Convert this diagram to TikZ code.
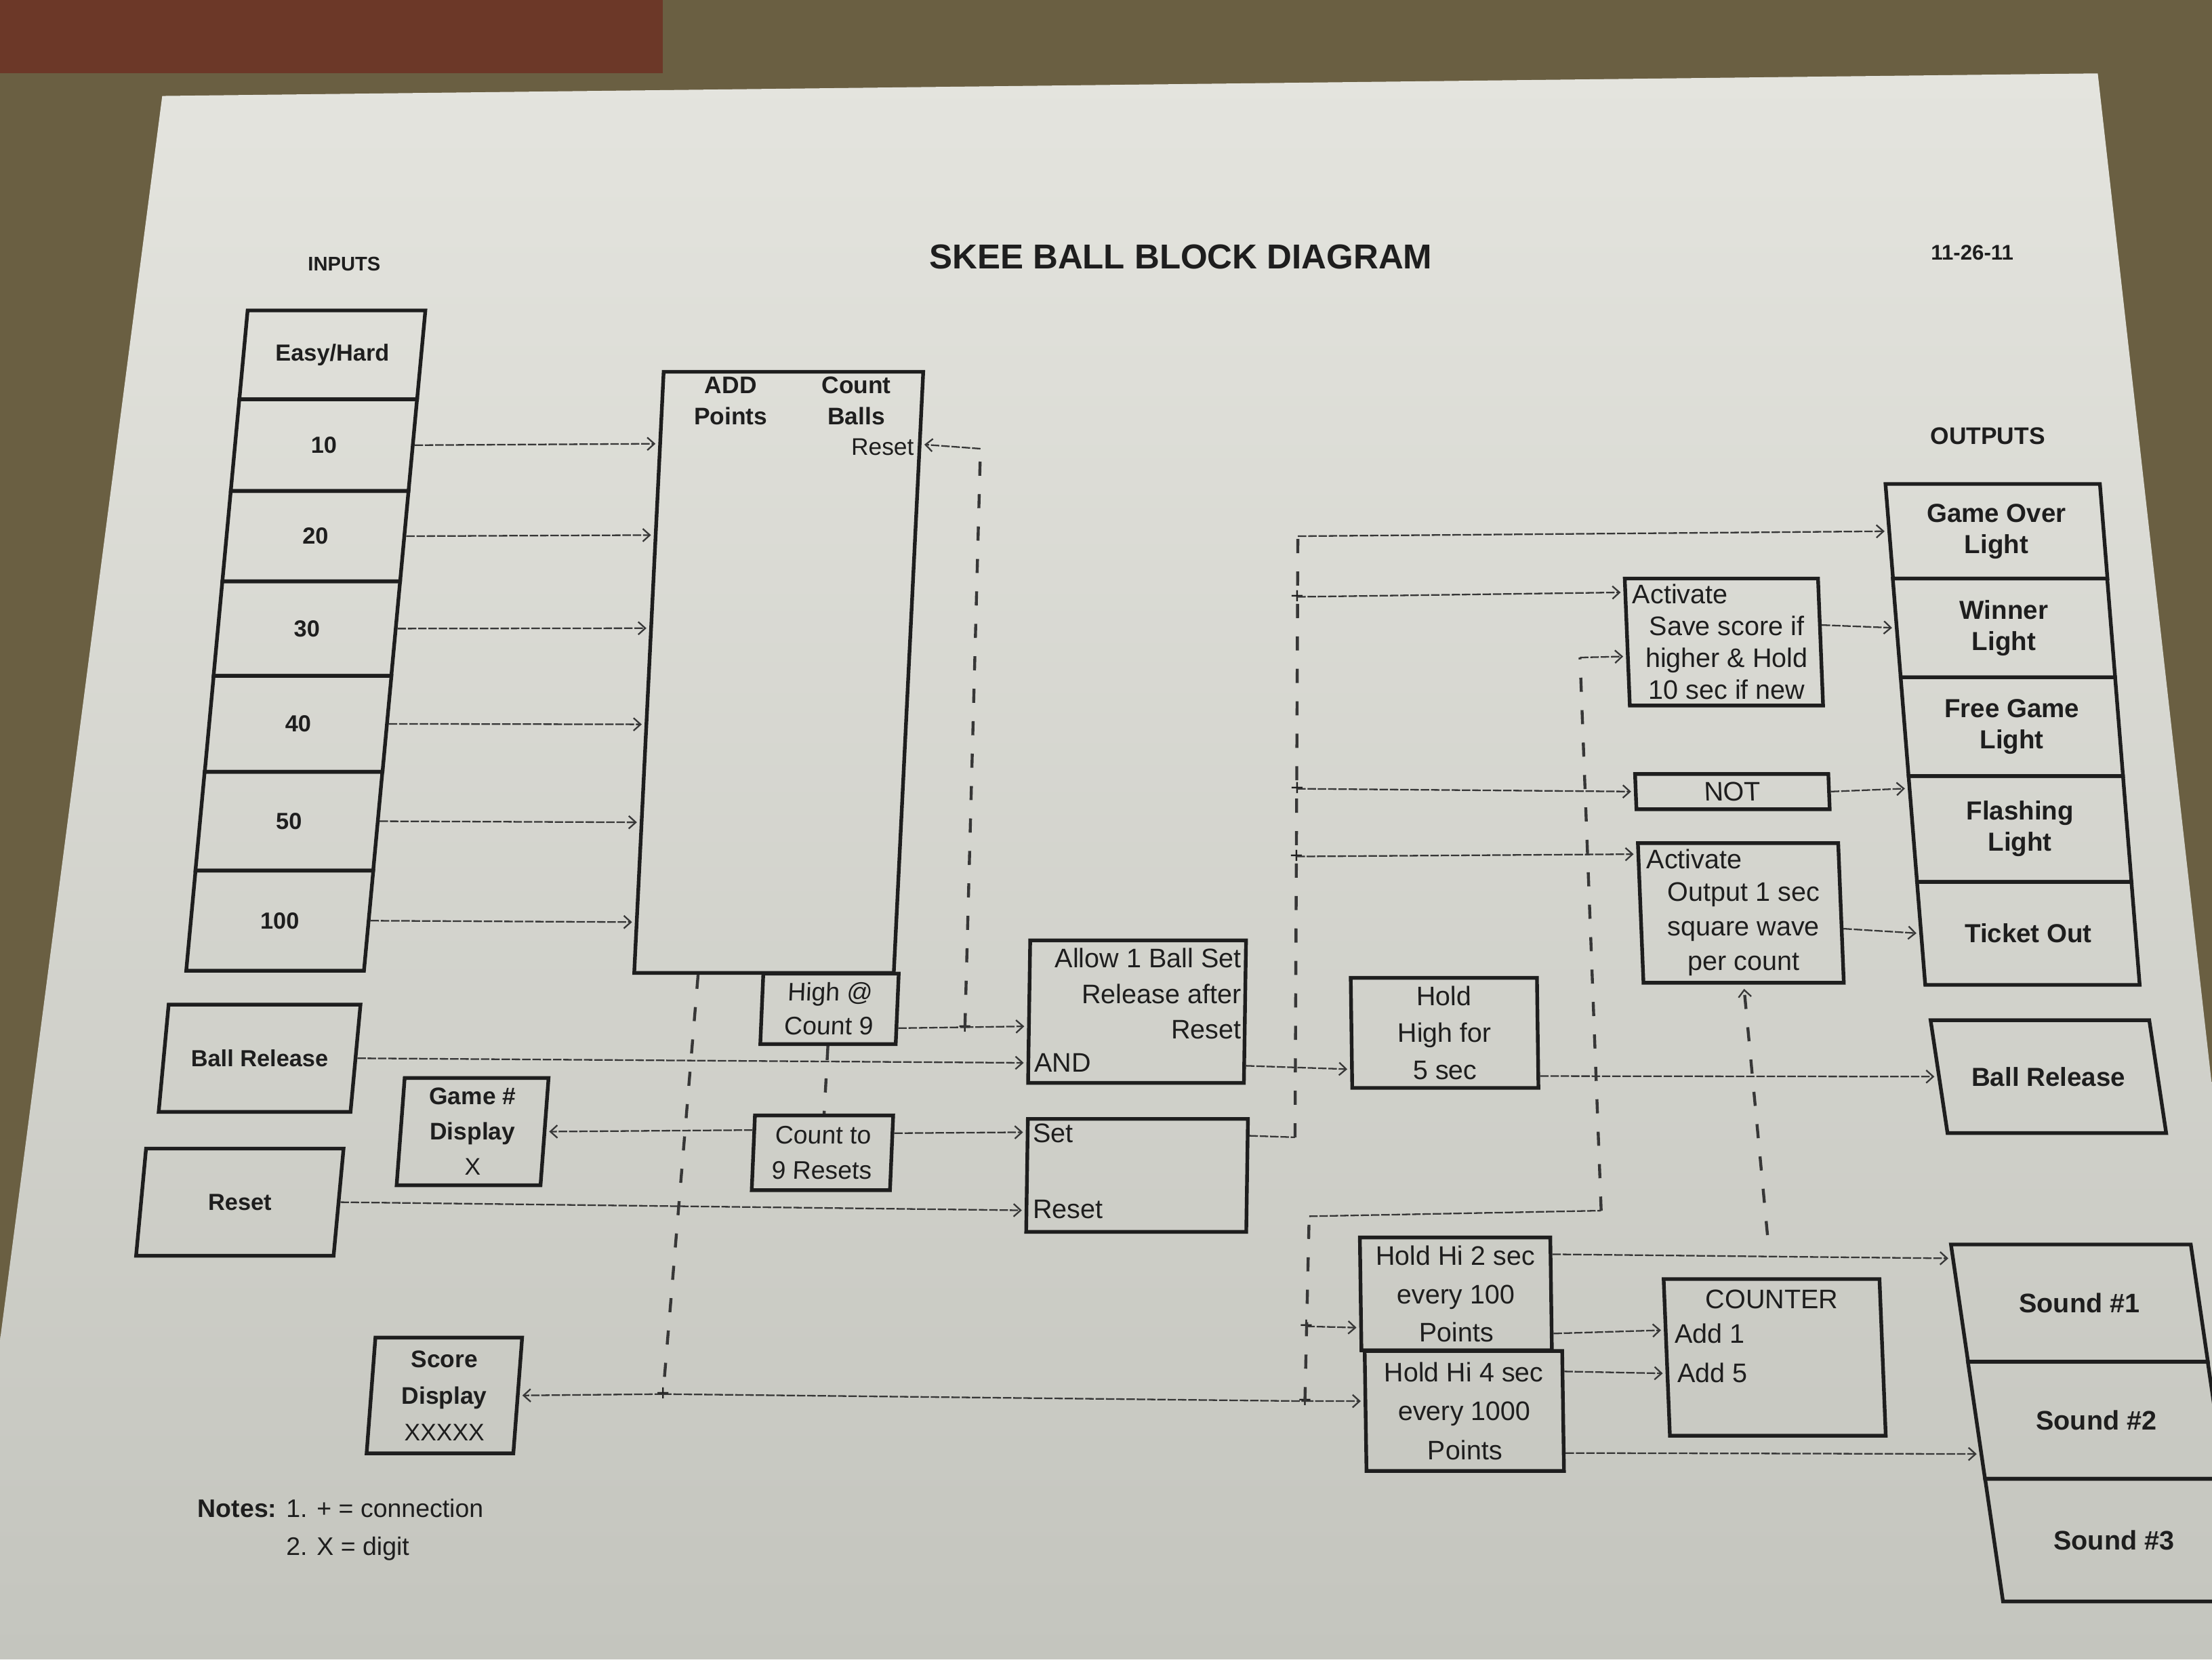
\documentclass[tikz,border=0pt]{standalone}
\usepackage{fontspec}
\setmainfont{Liberation Sans}
\usetikzlibrary{arrows.meta,calc}

\definecolor{paperhi}{RGB}{228,228,222}
\definecolor{paperlo}{RGB}{196,197,190}
\definecolor{tabletop}{RGB}{106,95,66}
\definecolor{woodred}{RGB}{108,56,40}
\definecolor{ink}{RGB}{30,30,30}
\definecolor{wire}{RGB}{55,55,55}

\tikzset{
  blk/.style={draw=ink, line width=2.6pt, inner sep=1pt, align=center, text=ink,
    font=\bfseries\fontsize{18}{22}\selectfont, transform shape},
  lgc/.style={blk, font=\fontsize{19}{25}\selectfont},
  lbl/.style={inner sep=0pt, text=ink, font=\fontsize{19}{25}\selectfont},
  blbl/.style={inner sep=0pt, text=ink, align=center, font=\bfseries\fontsize{17}{22}\selectfont},
  wirel/.style={draw=wire, line width=1.1pt, dash pattern=on 6pt off 1.3pt},
  arr/.style={wirel, shorten >=2pt, -{Straight Barb[length=5pt,width=9pt,line width=1.1pt]}},
  bus/.style={draw=wire, line width=2.1pt, dash pattern=on 10pt off 13pt},
  jn/.style={inner sep=0pt, text=ink, font=\fontsize{16}{16}\selectfont},
}

\begin{document}
\begin{tikzpicture}[x=1pt, y=-1pt]
\useasboundingbox (0,0) rectangle (1568,1176);

% table, the board at the top and the sheet of paper
\fill[tabletop] (0,0) rectangle (1568,1176);
\fill[woodred] (0,0) rectangle (470,52);
\shade[top color=paperhi, bottom color=paperlo]
  (115,68) -- (1487,52) -- (1568,770) -- (1568,1176) -- (0,1176) -- (0,950) -- cycle;

% headings
\node[blbl, font=\bfseries\fontsize{24.5}{28}\selectfont] (title) at (837,182) {SKEE BALL BLOCK DIAGRAM};
\node[blbl, font=\bfseries\fontsize{14}{16}\selectfont] (inlbl) at (244,187) {INPUTS};
\node[blbl, font=\bfseries\fontsize{15}{18}\selectfont] (date) at (1398,179) {11-26-11};
\node[blbl, font=\bfseries\fontsize{17}{20}\selectfont] (outlbl) at (1409,309) {OUTPUTS};

% input column (boxes lean with the page; their labels stay upright)
\tikzset{inbox/.style={blk, xslant=0.093, minimum width=126},
         intxt/.style={blbl, font=\bfseries\fontsize{16.5}{21}\selectfont}}
\node[inbox, minimum height=63] (ieasy) at (235.6,251.5) {};
\node[inbox, minimum height=65] (i10) at (229.6,315.5) {};
\node[inbox, minimum height=64] (i20) at (223.6,380) {};
\node[inbox, minimum height=67] (i30) at (217.5,445.5) {};
\node[inbox, minimum height=68] (i40) at (211.3,513) {};
\node[inbox, minimum height=70] (i50) at (204.8,582) {};
\node[inbox, minimum height=71] (i100) at (198.3,652.5) {};
\node[inbox, minimum width=136, minimum height=76] (ibr) at (184,750) {};
\node[inbox, minimum width=140, minimum height=76] (ires) at (170,852) {};
\node[intxt] (ieasy-t) at (ieasy.center) {Easy/Hard};
\node[intxt] (i10-t) at (i10.center) {10};
\node[intxt] (i20-t) at (i20.center) {20};
\node[intxt] (i30-t) at (i30.center) {30};
\node[intxt] (i40-t) at (i40.center) {40};
\node[intxt] (i50-t) at (i50.center) {50};
\node[intxt] (i100-t) at (i100.center) {100};
\node[intxt] (ibr-t) at (ibr.center) {Ball Release};
\node[intxt] (ires-t) at (ires.center) {Reset};

% adder / ball counter
\node[blk, xslant=0.049, minimum width=184, minimum height=426] (add) at (552,476.5) {};
\node[blbl] (addlbl) at (518,284) {ADD\\Points};
\node[blbl] (cntlbl) at (607,284) {Count\\Balls};
\node[lbl, font=\fontsize{17}{20}\selectfont, anchor=east] (rstlbl) at (648,317) {Reset};
\node[lgc, xslant=0.043, minimum width=96, minimum height=50, font=\fontsize{18}{24}\selectfont] (high) at (588,715) {High @\\Count 9};

% displays and reset counter
\node[blk, xslant=0.075, minimum width=102, minimum height=76] (game) at (335,802) {};
\node[blbl, font=\bfseries\fontsize{17}{25}\selectfont] (game-t) at (game.center) {Game \#\\Display\\{\mdseries X}};
\node[lgc, xslant=0.043, minimum width=98, minimum height=53, font=\fontsize{18}{25}\selectfont] (cnt9) at (583,817) {Count to\\9 Resets};
\node[blk, xslant=0.076, minimum width=104, minimum height=82] (score) at (315,989) {};
\node[blbl, font=\bfseries\fontsize{17}{26}\selectfont] (score-t) at (score.center) {Score\\Display\\{\mdseries XXXXX}};

% ball release gate and game flip-flop
\node[blk, xslant=0.015, minimum width=153, minimum height=101] (allow) at (806,717) {};
\node[lbl, anchor=north east, align=right] (allowtxt) at (880,672) {Allow 1 Ball Set\\Release after\\Reset};
\node[lbl, anchor=west] (andtxt) at (733,753) {AND};
\node[blk, xslant=0.015, minimum width=156, minimum height=80] (sr) at (806,833) {};
\node[lbl, anchor=west] (settxt) at (732,803) {Set};
\node[lbl, anchor=west] (srrst) at (732,857) {Reset};

% timers
\node[lgc, xslant=-0.0135, minimum width=132, minimum height=78, font=\fontsize{19}{26}\selectfont] (hold5) at (1024,732) {Hold\\High for\\5 sec};
\node[lgc, xslant=-0.014, minimum width=135, minimum height=80, font=\fontsize{19}{27}\selectfont] (hold2) at (1032,917) {Hold Hi 2 sec\\every 100\\Points};
\node[lgc, xslant=-0.015, minimum width=140, minimum height=85, font=\fontsize{19}{27.5}\selectfont] (hold4) at (1038,1000) {Hold Hi 4 sec\\every 1000\\Points};

% score keeping, NOT gate, ticket pulser, counter
\node[blk, xslant=-0.04, minimum width=137, minimum height=90] (save) at (1222,455) {};
\node[lbl, anchor=west] (savea) at (1157,421) {Activate};
\node[lbl, align=center, font=\fontsize{19}{22.5}\selectfont] (savetxt) at (1224,466) {Save score if\\higher \& Hold\\10 sec if new};
\node[lgc, xslant=-0.04, minimum width=137, minimum height=25, font=\fontsize{19}{22}\selectfont] (notb) at (1228,561) {NOT};
\node[blk, xslant=-0.04, minimum width=142, minimum height=99] (out1) at (1234,647) {};
\node[lbl, anchor=west] (outa) at (1167,609) {Activate};
\node[lbl, align=center, font=\fontsize{19}{24.5}\selectfont] (outtxt) at (1236,658.5) {Output 1 sec\\square wave\\per count};
\node[blk, xslant=-0.04, minimum width=153, minimum height=111] (counter) at (1258,962) {};
\node[lbl] (cnttitle) at (1256,921) {COUNTER};
\node[lbl, anchor=west] (add1) at (1187,945) {Add 1};
\node[lbl, anchor=west] (add5) at (1189,973) {Add 5};

% output column
\tikzset{outbox/.style={blk, xslant=-0.08, minimum width=152},
         outtx/.style={blbl, font=\bfseries\fontsize{18.5}{22}\selectfont}}
\node[outbox, minimum height=67] (gol) at (1415.2,376.5) {};
\node[outbox, minimum height=70] (win) at (1420.5,445) {};
\node[outbox, minimum height=70] (fgl) at (1426.1,515) {};
\node[outbox, minimum height=75] (fls) at (1431.9,587.5) {};
\node[outbox, minimum height=73] (tko) at (1437.8,661.5) {};
\node[outbox, xslant=-0.07, minimum width=155, minimum height=80] (brout) at (1452,763) {};
\node[outtx] (gol-t) at (gol.center) {Game Over\\Light};
\node[outtx] (win-t) at (win.center) {Winner\\Light};
\node[outtx] (fgl-t) at (fgl.center) {Free Game\\Light};
\node[outtx] (fls-t) at (fls.center) {Flashing\\Light};
\node[outtx] (tko-t) at (tko.center) {Ticket Out};
\node[outtx] (brout-t) at (brout.center) {Ball Release};
\tikzset{sndbox/.style={blk, xslant=-0.146, minimum width=170}}
\node[sndbox, minimum height=83] (s1) at (1474,923.5) {};
\node[sndbox, minimum height=83] (s2) at (1486,1006.5) {};
\node[sndbox, minimum height=87] (s3) at (1498.5,1091.5) {};
\node[outtx, font=\bfseries\fontsize{19}{22}\selectfont] (s1-t) at (s1.center) {Sound \#1};
\node[outtx, font=\bfseries\fontsize{19}{22}\selectfont] (s2-t) at (s2.center) {Sound \#2};
\node[outtx, font=\bfseries\fontsize{19}{22}\selectfont] (s3-t) at (s3.center) {Sound \#3};

% notes
\node[lbl, anchor=north west, font=\fontsize{18}{27}\selectfont] (notes) at (140,1056)
  {\begin{tabular}{@{}l@{ }l@{}}\textbf{Notes:} & 1. + = connection\\ & 2. X = digit\end{tabular}};

% ---- connectors ----
% point inputs into the adder
\draw[arr] (i10.east) -- ($(add.north west)!0.122!(add.south west)$);
\draw[arr] (i20.east) -- ($(add.north west)!0.273!(add.south west)$);
\draw[arr] (i30.east) -- ($(add.north west)!0.427!(add.south west)$);
\draw[arr] (i40.east) -- ($(add.north west)!0.586!(add.south west)$);
\draw[arr] (i50.east) -- ($(add.north west)!0.748!(add.south west)$);
\draw[arr] (i100.east) -- ($(add.north west)!0.913!(add.south west)$);

% count-9 output: back to the ball counter reset and on to the gate
\node[jn] (jhigh) at (684,728) {+};
\coordinate (rtop) at (695,318);
\draw[bus] (jhigh.center) -- (rtop);
\draw[arr] (rtop) -- ($(add.north east)!0.123!(add.south east)$);
\draw[wirel] ($(high.north east)!0.76!(high.south east)$) -- (jhigh.center);
\draw[arr] (jhigh.center) -- ($(allow.north west)!0.6!(allow.south west)$);
\draw[bus] (high.south) -- (cnt9.north);

% ball release input into the gate
\draw[arr] (ibr.east) -- ($(allow.north west)!0.85!(allow.south west)$);

% score bus
\coordinate (addout) at ($(add.south west)!0.25!(add.south east)$);
\node[jn] (jscore) at (470,988) {+};
\node[jn] (jh4) at (925,993) {+};
\node[jn] (jh2) at (926,940) {+};
\coordinate (sc1) at (928,862);
\coordinate (sc2) at (1135,858);
\coordinate (sc3) at (1120,466);
\draw[bus] (addout) -- (jscore.center);
\draw[arr] (jscore.center) -- (score.east);
\draw[wirel] (jscore.center) -- (jh4.center);
\draw[arr] (jh4.center) -- ($(hold4.north west)!0.42!(hold4.south west)$);
\draw[bus] (jh4.center) -- (sc1);
\draw[arr] (jh2.center) -- ($(hold2.north west)!0.79!(hold2.south west)$);
\draw[wirel] (sc1) -- (sc2);
\draw[bus] (sc2) -- (sc3);
\draw[arr] (sc3) -- ($(save.north west)!0.61!(save.south west)$);

% reset counter outputs
\draw[arr] ($(cnt9.north west)!0.21!(cnt9.south west)$) -- (game.east);
\draw[arr] ($(cnt9.north east)!0.25!(cnt9.south east)$) -- ($(sr.north west)!0.13!(sr.south west)$);
\draw[arr] (ires.east) -- ($(sr.north west)!0.8!(sr.south west)$);

% game over bus
\coordinate (go1) at (918,806);
\coordinate (go2) at (920,380);
\node[jn] (jsave) at (919.5,423) {+};
\node[jn] (jnot) at (919.5,559) {+};
\node[jn] (jout) at (919,607) {+};
\draw[wirel] ($(sr.north east)!0.16!(sr.south east)$) -- (go1);
\draw[bus] (go1) -- (go2);
\draw[arr] (go2) -- (gol.west);
\draw[arr] (jsave.center) -- ($(save.north west)!0.12!(save.south west)$);
\draw[arr] (jnot.center) -- (notb.west);
\draw[arr] (jout.center) -- ($(out1.north west)!0.09!(out1.south west)$);

% gate, timer and ball release output
\draw[arr] ($(allow.north east)!0.87!(allow.south east)$) -- ($(hold5.north west)!0.82!(hold5.south west)$);
\draw[arr] ($(hold5.north east)!0.88!(hold5.south east)$) -- (brout.west);

% light and ticket outputs
\draw[arr] ($(save.north east)!0.37!(save.south east)$) -- (win.west);
\draw[arr] (notb.east) -- ($(fls.north west)!0.13!(fls.south west)$);
\draw[arr] ($(out1.north east)!0.61!(out1.south east)$) -- (tko.west);
\draw[bus, shorten <=30pt, shorten >=3pt, -{Straight Barb[length=5pt,width=9pt,line width=1.1pt]}] (counter.north) -- (out1.south);

% sound and counter inputs
\draw[arr] ($(hold2.north east)!0.16!(hold2.south east)$) -- ($(s1.north west)!0.13!(s1.south west)$);
\draw[arr] ($(hold2.north east)!0.84!(hold2.south east)$) -- ($(counter.north west)!0.33!(counter.south west)$);
\draw[arr] ($(hold4.north east)!0.18!(hold4.south east)$) -- ($(counter.north west)!0.6!(counter.south west)$);
\draw[arr] ($(hold4.north east)!0.84!(hold4.south east)$) -- ($(s2.north west)!0.78!(s2.south west)$);

\end{tikzpicture}
\end{document}
